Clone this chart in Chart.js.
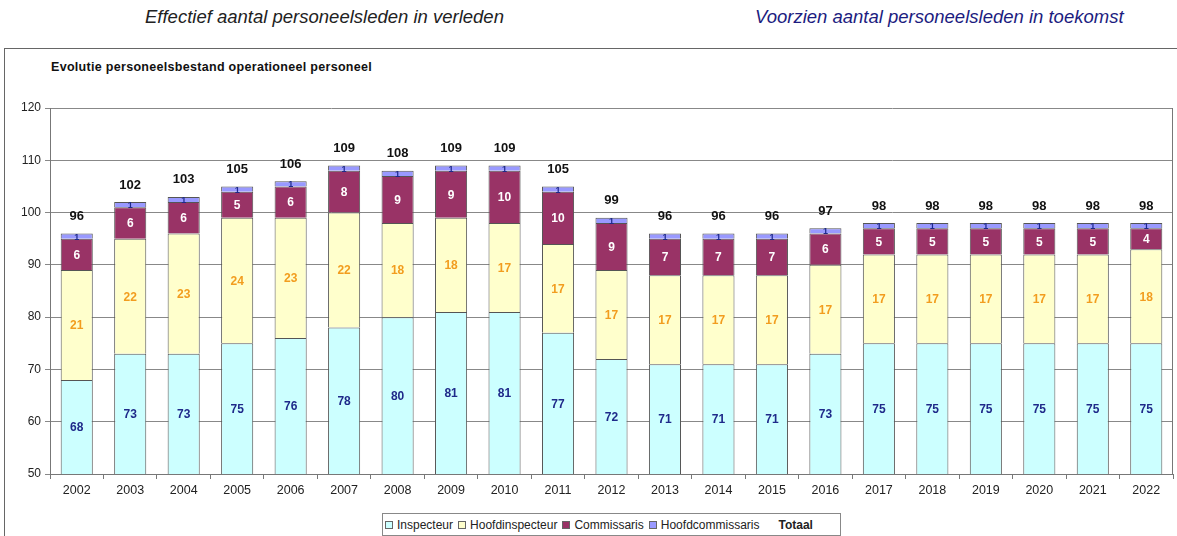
<!DOCTYPE html>
<html><head><meta charset="utf-8">
<script src="https://cdn.jsdelivr.net/npm/chart.js@4/dist/chart.umd.min.js"></script>
<style>
body{margin:0;width:1177px;height:536px;background:#fff;position:relative;overflow:hidden;font-family:"Liberation Sans",Arial,sans-serif;}
.hdr{position:absolute;top:6px;font-style:italic;font-size:18.5px;white-space:nowrap;}
#h1{left:145px;color:#222;}
#h2{left:755px;color:#1c1c80;}
#frame{position:absolute;left:4px;top:48px;width:1185px;height:520px;border:1px solid #666;box-sizing:border-box;}
#title{position:absolute;left:51px;top:60px;font-size:12.5px;letter-spacing:0.3px;font-weight:bold;color:#111;white-space:nowrap;}
#wrap{position:absolute;left:0;top:0;width:1177px;height:536px;}
#legend{position:absolute;left:382px;top:513px;width:459px;height:23px;border:1px solid #888;box-sizing:border-box;background:#fff;display:flex;align-items:center;font-size:12px;color:#222;white-space:nowrap;padding-left:2px;}
#legend .it{display:flex;align-items:center;margin-right:5px;}
#legend .sw{width:6px;height:6px;border:1px solid #666;margin-right:4px;}
#legend b{margin-left:14px;}
</style></head>
<body>
<div id="frame"></div>
<div class="hdr" id="h1">Effectief aantal personeelsleden in verleden</div>
<div class="hdr" id="h2">Voorzien aantal personeelsleden in toekomst</div>
<div id="title">Evolutie personeelsbestand operationeel personeel</div>
<div id="wrap"><canvas id="c" width="1177" height="536"></canvas></div>
<div id="legend"></div>
<script>
const years = ['2002','2003','2004','2005','2006','2007','2008','2009','2010','2011','2012','2013','2014','2015','2016','2017','2018','2019','2020','2021','2022'];
const inspecteur = [68,73,73,75,76,78,80,81,81,77,72,71,71,71,73,75,75,75,75,75,75];
const hoofdinspecteur = [21,22,23,24,23,22,18,18,17,17,17,17,17,17,17,17,17,17,17,17,18];
const commissaris = [6,6,6,5,6,8,9,9,10,10,9,7,7,7,6,5,5,5,5,5,4];
const hoofdcommissaris = [1,1,1,1,1,1,1,1,1,1,1,1,1,1,1,1,1,1,1,1,1];
const totaal = [96,102,103,105,106,109,108,109,109,105,99,96,96,96,97,98,98,98,98,98,98];
const yTicks = [50,60,70,80,90,100,110,120];

const series = [
  {label:'Inspecteur', data:inspecteur, bg:'#ccffff', txt:'#1f2a8a', font:'bold 12px "Liberation Sans", Arial'},
  {label:'Hoofdinspecteur', data:hoofdinspecteur, bg:'#ffffcc', txt:'#f29d1f', font:'bold 12px "Liberation Sans", Arial'},
  {label:'Commissaris', data:commissaris, bg:'#993366', txt:'#ffffff', font:'bold 12px "Liberation Sans", Arial'},
  {label:'Hoofdcommissaris', data:hoofdcommissaris, bg:'#9999ff', txt:'#1f2a8a', font:'bold 9px "Liberation Sans", Arial'}
];

const leg = document.getElementById('legend');
series.forEach(s=>{
  const d=document.createElement('span');d.className='it';
  const sw=document.createElement('span');sw.className='sw';sw.style.background=s.bg;
  d.appendChild(sw);d.appendChild(document.createTextNode(s.label));leg.appendChild(d);
});
const tb=document.createElement('b');tb.textContent='Totaal';leg.appendChild(tb);

const labelPlugin = {
  id:'segLabels',
  afterDatasetsDraw(chart){
    const ctx=chart.ctx, ca=chart.chartArea, ys=chart.scales.y;
    ctx.save();
    ctx.textAlign='center';ctx.textBaseline='middle';
    chart.data.datasets.forEach((ds,i)=>{
      const meta=chart.getDatasetMeta(i);
      meta.data.forEach((bar,j)=>{
        const p=bar.getProps(['x','y','base'],true);
        const top=Math.max(p.y,ca.top), bot=Math.min(p.base,ca.bottom);
        ctx.fillStyle=series[i].txt;ctx.font=series[i].font;
        ctx.fillText(String(ds.data[j]), p.x, (top+bot)/2+1);
      });
    });
    const meta0=chart.getDatasetMeta(0);
    ctx.fillStyle='#111';ctx.font='bold 13px "Liberation Sans", Arial';
    totaal.forEach((t,j)=>{
      const x=meta0.data[j].x;
      ctx.fillText(String(t), x, ys.getPixelForValue(t)-17);
    });
    ctx.strokeStyle='#777';ctx.lineWidth=1;
    ctx.beginPath();ctx.moveTo(Math.round(ca.right)-0.5,ca.top);ctx.lineTo(Math.round(ca.right)-0.5,ca.bottom);ctx.stroke();
    ctx.restore();
  }
};

new Chart(document.getElementById('c'),{
  type:'bar',
  data:{labels:years,datasets:series.map(s=>({label:s.label,data:s.data,backgroundColor:s.bg,borderColor:'#555',borderWidth:1,barPercentage:0.6,categoryPercentage:1}))},
  options:{
    responsive:false,animation:false,
    layout:{padding:{left:0,right:4,top:108,bottom:32}},
    plugins:{legend:{display:false},tooltip:{enabled:false}},
    scales:{
      x:{stacked:true,
         grid:{drawOnChartArea:false,tickLength:5,color:'#777',offset:true},
         border:{color:'#777'},
         ticks:{color:'#222',font:{family:'"Liberation Sans", Arial',size:12.5},padding:4},
         afterFit(s){s.height=30;}},
      y:{stacked:true,min:50,max:120,
         afterBuildTicks(s){s.ticks=yTicks.map(v=>({value:v}));},
         grid:{color:'#888',tickLength:5},
         border:{color:'#777'},
         ticks:{color:'#222',font:{family:'"Liberation Sans", Arial',size:12},padding:4},
         afterFit(s){s.width=50;}}
    }
  },
  plugins:[labelPlugin]
});
</script>
</body></html>
